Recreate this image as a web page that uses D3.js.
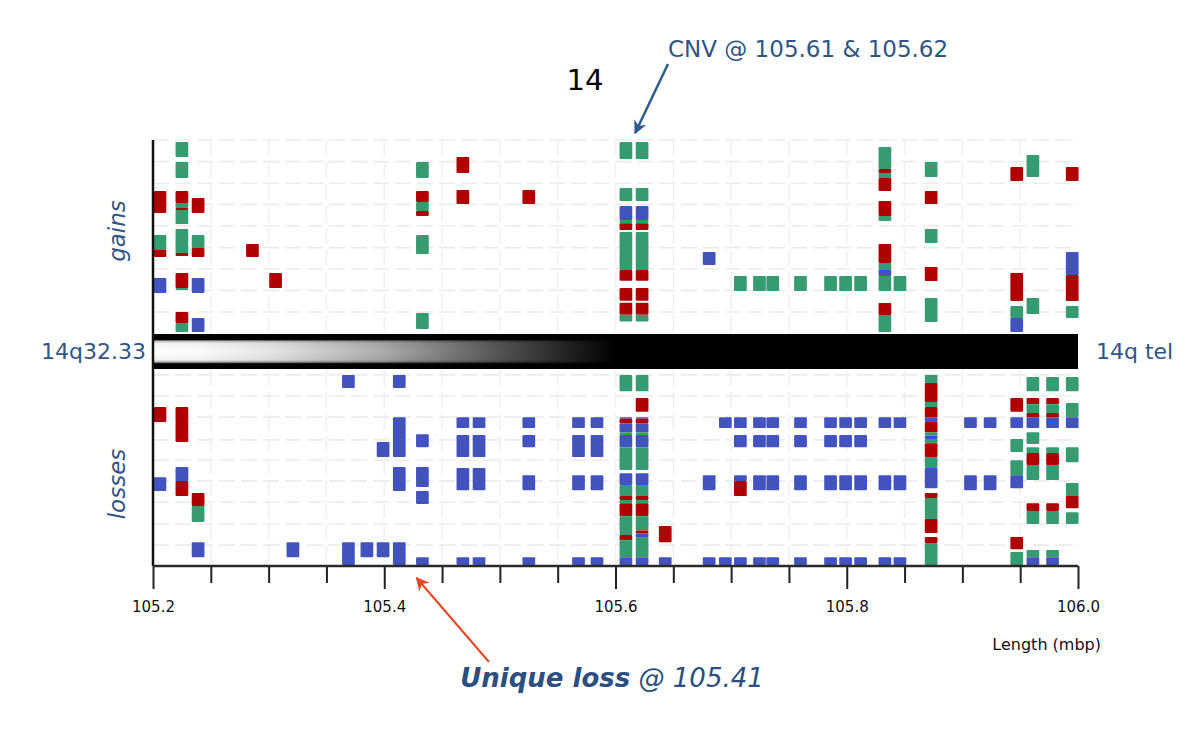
<!DOCTYPE html>
<html>
<head>
<meta charset="utf-8">
<script src="https://cdn.jsdelivr.net/npm/d3@7/dist/d3.min.js"></script>
<style>
  body { margin: 0; background: #fff; }
  svg { display: block; font-family: "DejaVu Sans", Verdana, sans-serif; }
</style>
</head>
<body>
<div id="chart"></div>
<script>
// tick values (mbp)
const majorTicks = [105.2, 105.4, 105.6, 105.8, 106.0];
const minorTicks = [105.25, 105.3, 105.35, 105.45, 105.5, 105.55, 105.65, 105.7, 105.75, 105.85, 105.9, 105.95];
// sample-row positions of the dashed horizontal guides
const gainGrid = [0, 5.4, 10.8, 16.1, 21.5, 26.9, 32.2, 37.6, 43];
const lossGrid = [1.2, 6.4, 11.6, 17.2, 22.2, 27.3, 32.5, 37.9, 43.1];

// gains: [probe position (mbp), [[first sample, last sample, call], ...]]
// G = green, R = red, B = blue
const gainCols = [
  [105.206, [[12.75, 18.25, 'R'], [23.75, 27.5, 'G'], [27.5, 29.25, 'R'], [34.5, 38.25, 'B']]],
  [105.225, [[0.5, 4.25, 'G'], [5.5, 9.5, 'G'], [12.75, 15.75, 'R'], [15.75, 17, 'G'], [17, 17.5, 'R'], [17.5, 21, 'G'],
             [22.25, 28.25, 'G'], [28.25, 29, 'R'], [33.25, 37, 'R'], [37, 37.5, 'G'], [43, 45.75, 'R'], [45.75, 48, 'G']]],
  [105.239, [[14.5, 18.25, 'R'], [23.75, 27, 'G'], [27, 29.25, 'R'], [34.5, 38.25, 'B'], [44.5, 48, 'B']]],
  [105.286, [[26, 29.25, 'R']]],
  [105.306, [[33.25, 37, 'R']]],
  [105.433, [[5.5, 9.5, 'G'], [12.75, 15.5, 'R'], [15.5, 17.75, 'G'], [17.75, 19, 'R'], [23.75, 28.5, 'G'], [43.25, 47.25, 'G']]],
  [105.468, [[4.25, 8.25, 'R'], [12.5, 16, 'R']]],
  [105.525, [[12.5, 16, 'R']]],
  [105.609, [[0.5, 4.75, 'G'], [12, 15.25, 'G'], [16.5, 20, 'B'], [20, 20.8, 'G'], [20.8, 22.5, 'R'], [23, 32.5, 'G'],
             [32.5, 35.2, 'R'], [37, 40.2, 'R'], [40.7, 43.7, 'R'], [43.7, 45.4, 'G']]],
  [105.623, [[0.5, 4.75, 'G'], [12, 15.25, 'G'], [16.5, 20, 'B'], [20, 20.8, 'G'], [20.8, 22.5, 'R'], [23, 32.5, 'G'],
             [32.5, 35.2, 'R'], [37, 40.2, 'R'], [40.7, 43.7, 'R'], [43.7, 45.4, 'G']]],
  [105.681, [[28, 31.25, 'B']]],
  [105.708, [[34, 37.75, 'G']]],
  [105.7245, [[34, 37.75, 'G']]],
  [105.736, [[34, 37.75, 'G']]],
  [105.760, [[34, 37.75, 'G']]],
  [105.786, [[34, 37.75, 'G']]],
  [105.799, [[34, 37.75, 'G']]],
  [105.812, [[34, 37.75, 'G']]],
  [105.833, [[1.75, 7.25, 'G'], [7.25, 8.25, 'R'], [8.25, 9.5, 'G'], [9.5, 12.75, 'R'], [15.25, 19, 'R'], [19, 20.25, 'G'],
             [26, 30.75, 'R'], [30.75, 32.5, 'G'], [32.5, 34, 'B'], [34, 37.75, 'G'], [40.75, 43.75, 'R'], [43.75, 48, 'G']]],
  [105.846, [[34, 37.75, 'G']]],
  [105.873, [[5.5, 9.25, 'G'], [12.75, 16, 'R'], [22.25, 25.75, 'G'], [31.75, 35.25, 'R'], [39.5, 45.5, 'G']]],
  [105.947, [[6.75, 10.25, 'R'], [33.25, 40.25, 'R'], [41.5, 44.5, 'G'], [44.5, 48, 'B']]],
  [105.961, [[3.75, 9.25, 'G'], [39.5, 43.5, 'G']]],
  [105.995, [[6.75, 10.25, 'R'], [28, 33.75, 'B'], [33.75, 40.25, 'R'], [41.5, 44.5, 'G']]]
];

const lossCols = [
  [105.206, [[9.1, 12.8, 'R'], [26.4, 29.8, 'B']]],
  [105.225, [[9.1, 17.7, 'R'], [23.9, 27.3, 'B'], [27.3, 31, 'R']]],
  [105.239, [[30.3, 33.5, 'R'], [33.5, 37.4, 'G'], [42.4, 46.1, 'B']]],
  [105.321, [[42.4, 46.1, 'B']]],
  [105.369, [[1.2, 4.4, 'B'], [42.4, 48, 'B']]],
  [105.385, [[42.4, 46.1, 'B']]],
  [105.399, [[17.7, 21.4, 'B'], [42.4, 46.1, 'B']]],
  [105.413, [[1.2, 4.4, 'B'], [11.6, 21.4, 'B'], [23.9, 29.8, 'B'], [42.4, 48, 'B']]],
  [105.433, [[15.8, 19, 'B'], [23.9, 28.8, 'B'], [29.8, 33, 'B'], [46.1, 48, 'B']]],
  [105.468, [[11.6, 14.3, 'B'], [16, 21.4, 'B'], [24.1, 29.6, 'B'], [46.1, 48, 'B']]],
  [105.482, [[11.6, 14.3, 'B'], [16, 21.4, 'B'], [24.1, 29.6, 'B'], [46.1, 48, 'B']]],
  [105.525, [[11.6, 14.3, 'B'], [16, 19, 'B'], [25.9, 29.6, 'B'], [46.1, 48, 'B']]],
  [105.568, [[11.6, 14.3, 'B'], [16, 21.4, 'B'], [25.9, 29.6, 'B'], [46.1, 48, 'B']]],
  [105.584, [[11.6, 14.3, 'B'], [16, 21.4, 'B'], [25.9, 29.6, 'B'], [46.1, 48, 'B']]],
  [105.609, [[1.2, 5.2, 'G'], [11.6, 12, 'B'], [12, 13.1, 'R'], [13.1, 15.3, 'B'], [15.3, 16, 'G'], [16, 19, 'B'],
             [19, 24.6, 'G'], [25.4, 28.3, 'B'], [28.3, 31, 'G'], [31, 32, 'R'], [32, 32.8, 'G'], [32.8, 36, 'R'],
             [36, 40.6, 'G'], [40.6, 41.9, 'R'], [41.9, 46.1, 'G'], [46.1, 48, 'B']]],
  [105.623, [[1.2, 5.2, 'G'], [6.9, 10.3, 'R'], [11.6, 12, 'B'], [12, 13.1, 'R'], [13.1, 15.3, 'B'], [15.3, 16, 'G'],
             [16, 19, 'B'], [19, 24.6, 'G'], [25.4, 28.3, 'B'], [28.3, 31, 'G'], [31, 32, 'R'], [32, 32.8, 'G'],
             [32.8, 36, 'R'], [36, 39.5, 'G'], [39.5, 40.2, 'R'], [40.2, 41.3, 'B'], [41.3, 46.1, 'G'], [46.1, 48, 'B']]],
  [105.643, [[38.4, 42.4, 'R'], [46.1, 48, 'B']]],
  [105.681, [[25.9, 29.6, 'B'], [46.1, 48, 'B']]],
  [105.695, [[11.6, 14.3, 'B'], [46.1, 48, 'B']]],
  [105.708, [[11.6, 14.3, 'B'], [16, 19, 'B'], [25.9, 27.3, 'B'], [27.3, 31, 'R'], [46.1, 48, 'B']]],
  [105.7245, [[11.6, 14.3, 'B'], [16, 19, 'B'], [25.9, 29.6, 'B'], [46.1, 48, 'B']]],
  [105.736, [[11.6, 14.3, 'B'], [16, 19, 'B'], [25.9, 29.6, 'B'], [46.1, 48, 'B']]],
  [105.760, [[11.6, 14.3, 'B'], [16, 19, 'B'], [25.9, 29.6, 'B'], [46.1, 48, 'B']]],
  [105.786, [[11.6, 14.3, 'B'], [16, 19, 'B'], [25.9, 29.6, 'B'], [46.1, 48, 'B']]],
  [105.799, [[11.6, 14.3, 'B'], [16, 19, 'B'], [25.9, 29.6, 'B'], [46.1, 48, 'B']]],
  [105.812, [[11.6, 14.3, 'B'], [16, 19, 'B'], [25.9, 29.6, 'B'], [46.1, 48, 'B']]],
  [105.833, [[11.6, 14.3, 'B'], [25.9, 29.6, 'B'], [46.1, 48, 'B']]],
  [105.846, [[11.6, 14.3, 'B'], [25.9, 29.6, 'B'], [46.1, 48, 'B']]],
  [105.873, [[1.2, 3.2, 'G'], [3.2, 7.9, 'R'], [7.9, 9.1, 'G'], [9.1, 11.6, 'R'], [11.6, 12.8, 'B'], [12.8, 15.3, 'R'],
             [15.3, 16.2, 'G'], [16.2, 17, 'B'], [17, 18, 'G'], [18, 21.4, 'R'], [21.4, 24.1, 'G'], [24.1, 29.1, 'B'],
             [30.3, 31.5, 'R'], [31.5, 36.7, 'G'], [36.7, 40.1, 'R'], [41.1, 42.6, 'R'], [42.6, 48, 'G']]],
  [105.907, [[11.6, 14.3, 'B'], [25.9, 29.6, 'B']]],
  [105.924, [[11.6, 14.3, 'B'], [25.9, 29.6, 'B']]],
  [105.947, [[6.9, 10.3, 'R'], [11.6, 14.3, 'B'], [17, 20.2, 'G'], [22.2, 25.9, 'G'], [25.9, 29.1, 'B'],
             [41.1, 44.1, 'R'], [44.8, 48, 'G']]],
  [105.961, [[1.7, 5.2, 'G'], [6.9, 8.4, 'R'], [8.4, 10.6, 'G'], [10.6, 11.6, 'R'], [11.6, 14.3, 'B'], [15.3, 18.2, 'G'],
             [19, 20.4, 'G'], [20.4, 23.4, 'R'], [23.4, 27.1, 'G'], [32.8, 34.7, 'R'], [34.7, 37.9, 'G'],
             [44.3, 46.1, 'G'], [46.1, 48, 'B']]],
  [105.978, [[1.7, 5.2, 'G'], [6.9, 8.4, 'R'], [8.4, 10.6, 'G'], [10.6, 11.6, 'R'], [11.6, 14.3, 'B'],
             [19, 20.4, 'G'], [20.4, 23.4, 'R'], [23.4, 27.1, 'G'], [32.8, 34.7, 'R'], [34.7, 37.9, 'G'],
             [44.3, 46.1, 'G'], [46.1, 48, 'B']]],
  [105.995, [[1.7, 5.2, 'G'], [8.1, 11.6, 'G'], [11.6, 14.3, 'B'], [19, 22.7, 'G'], [27.8, 31, 'G'], [31, 34, 'R'],
             [35, 37.9, 'G']]]
];

const width = 1200;
const height = 745;
const textBlue = '#2e5585';
const colour = { G: '#369b70', R: '#b10000', B: '#4353be' };
const probeWidth = 0.011;

const x = d3.scaleLinear().domain([105.2, 106.0]).range([153, 1078]);
const yGain = d3.scaleLinear().domain([0, 48]).range([140, 332]);
const yLoss = d3.scaleLinear().domain([0, 48]).range([370, 565]);
const axisY = yLoss.range()[1] + 1;

const svg = d3.select('#chart')
  .append('svg')
  .attr('width', width)
  .attr('height', height);

svg.append('rect').attr('width', width).attr('height', height).attr('fill', '#fff');

const defs = svg.append('defs');

// grid
const grid = svg.append('g')
  .attr('stroke', '#ececec')
  .attr('stroke-width', 1.6)
  .attr('stroke-dasharray', '16,6');
[[gainGrid, yGain], [lossGrid, yLoss]].forEach(([rows, y]) => {
  grid.selectAll(null).data(rows).enter().append('line')
    .attr('x1', x.range()[0]).attr('x2', x.range()[1])
    .attr('y1', d => y(d)).attr('y2', d => y(d));
  grid.selectAll(null).data(majorTicks.slice(1, -1).concat(minorTicks)).enter().append('line')
    .attr('x1', d => x(d)).attr('x2', d => x(d))
    .attr('y1', y.range()[0]).attr('y2', y.range()[1])
    .attr('stroke', '#f0f0f0');
});

// CNV calls
function drawPanel(cols, y) {
  const g = svg.append('g');
  cols.forEach(([pos, segs]) => {
    const x0 = x(pos - probeWidth / 2);
    const x1 = x(pos + probeWidth / 2);
    g.selectAll(null).data(segs).enter().append('rect')
      .attr('x', x0)
      .attr('width', x1 - x0)
      .attr('y', d => y(d[0]))
      .attr('height', d => y(d[1]) - y(d[0]))
      .attr('rx', 1)
      .attr('fill', d => colour[d[2]]);
  });
}
drawPanel(gainCols, yGain);
drawPanel(lossCols, yLoss);

// chromosome band
const bandTop = yGain.range()[1] + 2;
const bandBottom = yLoss.range()[0] - 1;
const hGrad = defs.append('linearGradient').attr('id', 'bandH');
[[105.2, '#ffffff'], [105.24, '#fbfbfb'], [105.3, '#e6e6e6'], [105.4, '#aaaaaa'], [105.5, '#555'], [105.58, '#111'], [105.6, '#000'], [106.0, '#000']]
  .forEach(([v, c]) => hGrad.append('stop').attr('offset', (v - 105.2) / 0.8).attr('stop-color', c));
const vGrad = defs.append('linearGradient').attr('id', 'bandV')
  .attr('x1', 0).attr('y1', 0).attr('x2', 0).attr('y2', 1);
[[0, 1], [0.16, 1], [0.2, 0.3], [0.26, 0.05], [0.5, 0], [0.74, 0.05], [0.8, 0.3], [0.85, 1], [1, 1]]
  .forEach(([o, a]) => vGrad.append('stop').attr('offset', o).attr('stop-color', '#000').attr('stop-opacity', a));
svg.append('rect')
  .attr('x', x(105.2)).attr('width', x(106.0) - x(105.2))
  .attr('y', bandTop).attr('height', bandBottom - bandTop)
  .attr('fill', 'url(#bandH)');
svg.append('rect')
  .attr('x', x(105.2)).attr('width', x(106.0) - x(105.2))
  .attr('y', bandTop).attr('height', bandBottom - bandTop)
  .attr('fill', 'url(#bandV)');

// axes
svg.append('line')
  .attr('x1', x(105.2)).attr('x2', x(105.2))
  .attr('y1', yGain.range()[0]).attr('y2', axisY)
  .attr('stroke', '#111').attr('stroke-width', 2.5);

const majorAxis = svg.append('g')
  .attr('transform', `translate(0,${axisY})`)
  .call(d3.axisBottom(x).tickValues(majorTicks).tickSizeInner(23).tickSizeOuter(0).tickPadding(12)
    .tickFormat(d3.format('.1f')));
majorAxis.select('.domain').remove();
majorAxis.selectAll('line').attr('stroke', '#222').attr('stroke-width', 2);
majorAxis.selectAll('text').attr('font-size', 15).attr('fill', '#111')
  .attr('font-family', '"DejaVu Sans", sans-serif');

const minorAxis = svg.append('g')
  .attr('transform', `translate(0,${axisY})`)
  .call(d3.axisBottom(x).tickValues(minorTicks).tickSizeInner(17).tickSizeOuter(0).tickFormat(''));
minorAxis.select('.domain').remove();
minorAxis.selectAll('line').attr('stroke', '#222').attr('stroke-width', 2);

svg.append('line')
  .attr('x1', x(105.2)).attr('x2', x(106.0))
  .attr('y1', axisY).attr('y2', axisY)
  .attr('stroke', '#2a2a2a').attr('stroke-width', 2.5);

// labels
svg.append('text').attr('x', 585).attr('y', 90)
  .attr('text-anchor', 'middle').attr('font-size', 29).attr('fill', '#000').text('14');

svg.append('text').attr('x', 146).attr('y', 359)
  .attr('text-anchor', 'end').attr('font-size', 22).attr('fill', textBlue).text('14q32.33');
svg.append('text').attr('x', 1096).attr('y', 359)
  .attr('font-size', 22).attr('fill', textBlue).text('14q tel');

svg.append('text').attr('transform', 'translate(125,231) rotate(-90)')
  .attr('text-anchor', 'middle').attr('font-size', 23).attr('font-style', 'italic')
  .attr('fill', textBlue).text('gains');
svg.append('text').attr('transform', 'translate(125,484) rotate(-90)')
  .attr('text-anchor', 'middle').attr('font-size', 23).attr('font-style', 'italic')
  .attr('fill', textBlue).text('losses');

svg.append('text').attr('x', 1101).attr('y', 650)
  .attr('text-anchor', 'end').attr('font-size', 16).attr('fill', '#111').text('Length (mbp)');

// annotations
function arrowHead(id, colour) {
  defs.append('marker')
    .attr('id', id)
    .attr('viewBox', '0 0 12 12')
    .attr('refX', 10).attr('refY', 6)
    .attr('markerWidth', 16).attr('markerHeight', 16)
    .attr('markerUnits', 'userSpaceOnUse')
    .attr('orient', 'auto')
    .append('path')
    .attr('d', 'M1,1 L11,6 L1,11 L4,6 Z')
    .attr('fill', colour);
}
arrowHead('headBlue', '#2b5c8e');
arrowHead('headRed', '#e8461e');

svg.append('text').attr('x', 668).attr('y', 57)
  .attr('font-size', 23).attr('fill', textBlue).text('CNV @ 105.61 & 105.62');
svg.append('line')
  .attr('x1', 668).attr('y1', 64)
  .attr('x2', x(105.617)).attr('y2', yGain(0) - 7)
  .attr('stroke', '#2b5c8e').attr('stroke-width', 2.5)
  .attr('marker-end', 'url(#headBlue)');

svg.append('line')
  .attr('x1', 489).attr('y1', 662)
  .attr('x2', x(105.428)).attr('y2', axisY + 12)
  .attr('stroke', '#e8461e').attr('stroke-width', 2)
  .attr('marker-end', 'url(#headRed)');

const note = svg.append('text').attr('x', 612).attr('y', 687)
  .attr('text-anchor', 'middle').attr('font-size', 26).attr('font-style', 'italic').attr('fill', '#2a4f80');
note.append('tspan').attr('font-weight', 'bold').text('Unique loss');
note.append('tspan').text(' @ 105.41');
</script>
</body>
</html>
